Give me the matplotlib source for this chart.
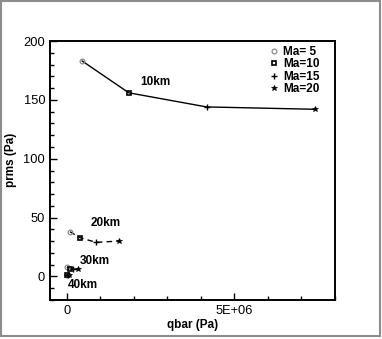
import matplotlib
matplotlib.use("Agg")
import matplotlib.pyplot as plt
from matplotlib.lines import Line2D
from matplotlib.patches import Rectangle
from matplotlib.ticker import MultipleLocator, FixedLocator

plt.rcParams['font.family'] = ['Liberation Sans', 'DejaVu Sans']

mach_labels = ["Ma= 5", "Ma=10", "Ma=15", "Ma=20"]
altitudes = ["10km", "20km", "30km", "40km"]

qbar_10km = [0.46e6, 1.85e6, 4.17e6, 7.40e6]
prms_10km = [183, 156, 144, 142]
qbar_20km = [0.097e6, 0.387e6, 0.87e6, 1.55e6]
prms_20km = [38, 33, 29, 30]
qbar_30km = [0.021e6, 0.084e6, 0.19e6, 0.335e6]
prms_30km = [7.8, 6.5, 6.2, 6.2]
qbar_40km = [0.005e6, 0.02e6, 0.045e6, 0.08e6]
prms_40km = [1.6, 1.3, 1.1, 1.0]

series = [(qbar_10km, prms_10km, '-'), (qbar_20km, prms_20km, (0, (4, 3))),
          (qbar_30km, prms_30km, '-'), (qbar_40km, prms_40km, '-')]

label_pos = {"10km": (2.63e6, 165), "20km": (1.17e6, 45.5),
             "30km": (0.84e6, 13.5), "40km": (0.49e6, -7.6)}

marker_styles = [
    dict(marker='o', mfc='none', mec='#8a8a8a', ms=3.4, mew=0.9),
    dict(marker='s', mfc='none', mec='black', ms=3.0, mew=1.2),
    dict(marker='+', mfc='none', mec='black', ms=4.5, mew=1.0),
    dict(marker='*', mfc='black', mec='black', ms=3.8, mew=0.5),
]

fig = plt.figure(figsize=(3.82, 3.39), dpi=100)
fig.patch.set_facecolor('white')
ax = fig.add_axes([50/382, (339-300)/339, 285/382, 259/339])

for q, p, ls in series:
    ax.plot(q, p, color='black', lw=1.0, ls=ls, zorder=2)
    for i in range(len(q)):
        ax.plot([q[i]], [p[i]], ls='none', zorder=3, **marker_styles[i])

for name in altitudes:
    x, y = label_pos[name]
    ax.text(x, y, name, fontsize=8.5, fontweight='bold', ha='center', va='center')

ax.set_xlim(-0.5e6, 8e6)
ax.set_ylim(-20, 200)
ax.xaxis.set_major_locator(FixedLocator([0, 5e6]))
ax.xaxis.set_minor_locator(MultipleLocator(1e6))
ax.yaxis.set_major_locator(MultipleLocator(50))
ax.yaxis.set_minor_locator(MultipleLocator(10))
ax.set_xticklabels(["0", "5E+06"])
ax.tick_params(which='both', direction='in', labelsize=9.3, width=1.0)
ax.tick_params(which='major', length=5, pad=3.5)
ax.tick_params(which='minor', length=3)
for s in ax.spines.values():
    s.set_linewidth(1.4)

ax.set_xlabel("qbar (Pa)", fontsize=8.5, fontweight='bold')
ax.set_ylabel("prms (Pa)", fontsize=8.5, fontweight='bold')
ax.xaxis.set_label_coords(0.5, -0.073)
ax.yaxis.set_label_coords(-0.116, 0.54)

handles = [Line2D([], [], ls='none', **m) for m in marker_styles]
leg = ax.legend(handles, mach_labels, loc='upper left', bbox_to_anchor=(0.765, 0.982),
                frameon=False, borderpad=0, handlelength=1.0, handletextpad=0.3,
                labelspacing=0.05, prop=dict(size=8.5, weight='bold'), borderaxespad=0)

fig.patches.append(Rectangle((1/382, 3/339), 379/382, 335/339, transform=fig.transFigure,
                             fill=False, edgecolor='#8c8c8c', lw=1.5))

fig.savefig("out.png", dpi=100)
